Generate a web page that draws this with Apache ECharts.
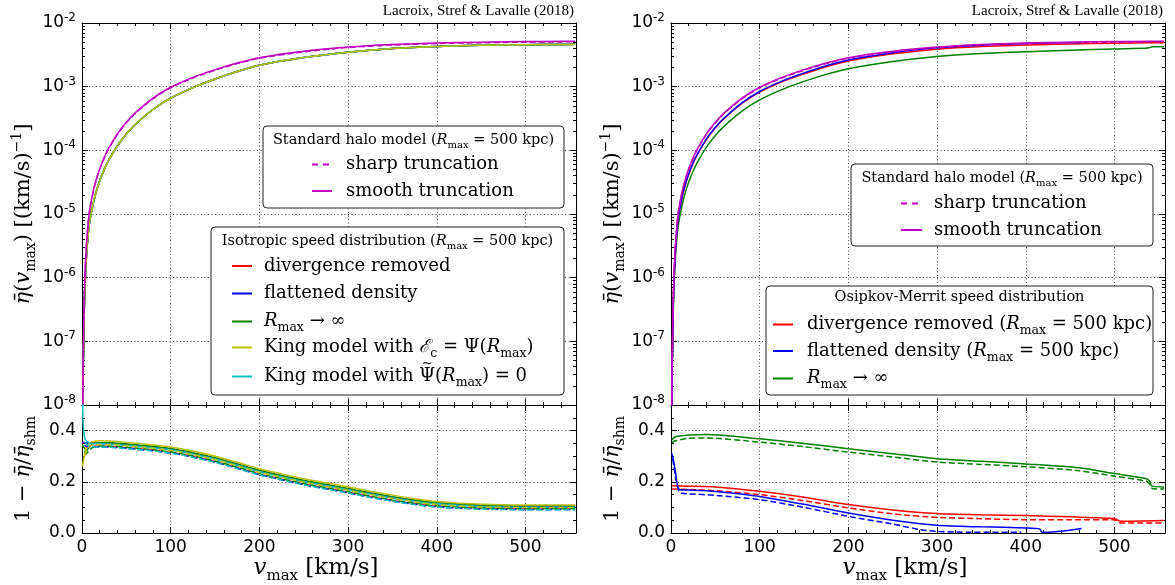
<!DOCTYPE html>
<html><head><meta charset="utf-8">
<script src="https://cdn.jsdelivr.net/npm/echarts@6/dist/echarts.min.js"></script>
<style>html,body{margin:0;padding:0;background:#fff}#c{width:1175px;height:585px}</style>
</head><body><div id="c"></div>
<script>
// ---------------- DATA ----------------
// top panels: eta-bar(v_max) in (km/s)^-1
const vTop = [0.5, 1, 2, 3, 5, 8, 12, 16, 20, 25, 30, 40, 50, 60, 80, 100, 125, 150, 175, 200, 250, 300, 350, 400, 450, 500, 540, 556];
const etaShmSmooth = [3e-9, 2e-8, 2e-7, 8e-7, 3.3e-6, 1e-5, 2.07e-5, 3.46e-5, 5.15e-5, 7.69e-5, 1.07e-4, 1.82e-4, 2.76e-4, 3.87e-4, 6.6e-4, 9.8e-4, 1.4e-3, 1.85e-3, 2.35e-3, 2.85e-3, 3.6e-3, 4.2e-3, 4.6e-3, 4.85e-3, 5.0e-3, 5.1e-3, 5.15e-3, 5.16e-3];
const etaShmSharp = [2.9e-9, 1.96e-8, 1.96e-7, 7.85e-7, 3.23e-6, 9.8e-6, 2.03e-5, 3.39e-5, 5.05e-5, 7.54e-5, 1.05e-4, 1.78e-4, 2.7e-4, 3.79e-4, 6.47e-4, 9.6e-4, 1.37e-3, 1.81e-3, 2.3e-3, 2.79e-3, 3.53e-3, 4.12e-3, 4.51e-3, 4.76e-3, 4.9e-3, 5.0e-3, 5.05e-3, 5.06e-3];
const etaIsotropic = [1.95e-9, 1.3e-8, 1.3e-7, 5.2e-7, 2.14e-6, 6.48e-6, 1.34e-5, 2.24e-5, 3.33e-5, 4.98e-5, 6.94e-5, 1.18e-4, 1.8e-4, 2.54e-4, 4.38e-4, 6.59e-4, 9.66e-4, 1.32e-3, 1.73e-3, 2.17e-3, 2.86e-3, 3.47e-3, 3.96e-3, 4.28e-3, 4.47e-3, 4.57e-3, 4.61e-3, 4.62e-3];
const etaOMDiv = [2.45e-9, 1.63e-8, 1.63e-7, 6.52e-7, 2.69e-6, 8.15e-6, 1.69e-5, 2.83e-5, 4.21e-5, 6.28e-5, 8.74e-5, 1.49e-4, 2.26e-4, 3.18e-4, 5.48e-4, 8.2e-4, 1.19e-3, 1.59e-3, 2.06e-3, 2.53e-3, 3.28e-3, 3.88e-3, 4.27e-3, 4.52e-3, 4.69e-3, 4.81e-3, 4.9e-3, 4.91e-3];
const vTopOMFlat = [0.5, 1, 2, 3, 5, 8, 12, 16, 20, 25, 30, 40, 50, 60, 80, 100, 125, 150, 175, 200, 250, 300, 350, 400, 450, 463];
const etaOMFlat = [2.0e-9, 1.34e-8, 1.38e-7, 5.8e-7, 2.55e-6, 8.3e-6, 1.72e-5, 2.88e-5, 4.28e-5, 6.4e-5, 8.9e-5, 1.51e-4, 2.3e-4, 3.22e-4, 5.58e-4, 8.4e-4, 1.22e-3, 1.64e-3, 2.13e-3, 2.63e-3, 3.42e-3, 4.07e-3, 4.49e-3, 4.75e-3, 4.94e-3, 4.96e-3];
const vTopOMInf = [0.5, 1, 2, 3, 5, 8, 12, 16, 20, 25, 30, 40, 50, 60, 80, 100, 125, 150, 175, 200, 250, 300, 350, 400, 450, 500, 538, 543, 556];
const etaOMInf = [1.9e-9, 1.28e-8, 1.27e-7, 5.0e-7, 2.05e-6, 6.2e-6, 1.28e-5, 2.13e-5, 3.18e-5, 4.74e-5, 6.6e-5, 1.12e-4, 1.71e-4, 2.4e-4, 4.13e-4, 6.19e-4, 8.99e-4, 1.21e-3, 1.56e-3, 1.91e-3, 2.48e-3, 2.98e-3, 3.31e-3, 3.54e-3, 3.73e-3, 3.92e-3, 4.06e-3, 4.23e-3, 4.23e-3];

// bottom-left: 1 - eta/eta_shm, isotropic models (solid: vs smooth, dashed: vs sharp)
const vIso = [0.3, 1, 2, 3, 5, 8, 12, 20, 30, 50, 75, 100, 125, 150, 175, 200, 225, 250, 275, 300, 325, 350, 375, 400, 450, 500, 556];
const isoDivSmooth = [0.352,0.352,0.352,0.352,0.352,0.352,0.352,0.352,0.351,0.346,0.338,0.328,0.312,0.292,0.268,0.243,0.223,0.204,0.188,0.172,0.155,0.140,0.127,0.117,0.107,0.104,0.104];
const isoFlatSmooth = [0.356,0.355,0.354,0.352,0.351,0.350,0.350,0.350,0.349,0.344,0.336,0.326,0.310,0.290,0.266,0.241,0.221,0.202,0.186,0.170,0.153,0.138,0.125,0.115,0.105,0.102,0.102];
const isoInfSmooth = [0.345,0.34,0.335,0.33,0.32,0.335,0.348,0.353,0.353,0.348,0.340,0.330,0.314,0.294,0.270,0.245,0.225,0.206,0.190,0.174,0.157,0.142,0.129,0.119,0.109,0.106,0.106];
const isoKingASmooth = [0.26,0.27,0.29,0.31,0.335,0.35,0.357,0.36,0.359,0.354,0.346,0.336,0.320,0.300,0.276,0.251,0.231,0.212,0.196,0.180,0.163,0.148,0.134,0.123,0.112,0.109,0.109];
const isoKingBSmooth = [0.62,0.45,0.40,0.37,0.36,0.352,0.350,0.349,0.348,0.343,0.335,0.325,0.309,0.289,0.265,0.240,0.220,0.201,0.185,0.169,0.152,0.137,0.124,0.114,0.104,0.101,0.101];
const vIsoSharp = [3, 5, 8, 12, 20, 30, 50, 75, 100, 125, 150, 175, 200, 225, 250, 275, 300, 325, 350, 375, 400, 450, 500, 556];
const isoDivSharp = [0.338,0.339,0.339,0.339,0.339,0.338,0.333,0.325,0.315,0.299,0.279,0.255,0.230,0.210,0.191,0.175,0.159,0.142,0.127,0.114,0.104,0.096,0.094,0.094];
const isoFlatSharp = [0.342,0.338,0.337,0.337,0.337,0.336,0.331,0.323,0.313,0.297,0.277,0.253,0.228,0.208,0.189,0.173,0.157,0.140,0.125,0.112,0.102,0.094,0.092,0.092];
const isoInfSharp = [0.32,0.31,0.322,0.334,0.340,0.340,0.335,0.327,0.317,0.301,0.281,0.257,0.232,0.212,0.193,0.177,0.161,0.144,0.129,0.116,0.106,0.098,0.096,0.096];
const isoKingASharp = [0.30,0.322,0.337,0.344,0.346,0.346,0.341,0.333,0.323,0.307,0.287,0.263,0.238,0.218,0.199,0.183,0.167,0.150,0.135,0.122,0.111,0.102,0.100,0.100];
const isoKingBSharp = [0.355,0.347,0.339,0.337,0.336,0.335,0.330,0.322,0.312,0.296,0.276,0.252,0.227,0.207,0.188,0.172,0.156,0.139,0.124,0.111,0.101,0.093,0.091,0.091];

// bottom-right: Osipkov-Merritt models
const vOMInfSmooth = [1, 5, 20, 40, 100, 150, 200, 250, 300, 350, 400, 460, 500, 536, 540, 542, 556];
const omInfSmooth = [0.363,0.376,0.383,0.385,0.368,0.350,0.329,0.31,0.29,0.28,0.27,0.255,0.232,0.212,0.20,0.183,0.18];
const vOMInfSharp = [1, 5, 20, 40, 100, 150, 200, 250, 300, 350, 400, 460, 500, 536, 540, 543, 556];
const omInfSharp = [0.353,0.36,0.37,0.371,0.355,0.337,0.316,0.297,0.277,0.268,0.259,0.243,0.222,0.202,0.19,0.173,0.172];
const vOMDivSmooth = [1, 20, 50, 100, 150, 200, 250, 300, 350, 400, 450, 500, 503, 506, 556];
const omDivSmooth = [0.185,0.183,0.18,0.163,0.14,0.111,0.09,0.076,0.071,0.068,0.063,0.057,0.052,0.046,0.049];
const vOMDivSharp = [1, 20, 50, 100, 150, 200, 250, 300, 350, 400, 450, 500, 504, 507, 556];
const omDivSharp = [0.172,0.17,0.165,0.15,0.126,0.098,0.075,0.061,0.056,0.052,0.052,0.052,0.045,0.039,0.039];
const vOMFlatSmooth = [1, 3, 5, 7, 9, 12, 20, 50, 100, 150, 200, 250, 300, 350, 400, 416, 418, 430, 463];
const omFlatSmooth = [0.311,0.28,0.24,0.19,0.172,0.168,0.168,0.162,0.143,0.112,0.078,0.05,0.03,0.024,0.02,0.016,0.003,0.004,0.018];
const vOMFlatSharp = [2, 5, 9, 12, 20, 50, 100, 150, 200, 250, 281, 300, 337, 395];
const omFlatSharp = [0.29,0.22,0.16,0.155,0.153,0.147,0.13,0.1,0.065,0.035,0.013,0.006,0.003,0.003];

// ticks
const xMajorInterval = 100;
const xMinorTicks = [20,40,60,80,120,140,160,180,220,240,260,280,320,340,360,380,420,440,460,480,520,540];
const ratioMinorTicks = [0.05,0.1,0.15,0.25,0.3,0.35,0.45];
const logMinorTicks = [];
for (let e = -8; e < -2; e++) for (let m = 2; m < 10; m++) logMinorTicks.push(+(m * Math.pow(10, e)).toPrecision(3));

// ---------------- CHART ----------------
const SERIF = 'DejaVu Serif';
const SERIF2 = 'Liberation Serif';
const SANS = 'DejaVu Sans';
const BLACK = '#000';
const X_MAX = 557;
const C = {r:'#ff0000', b:'#0000ff', g:'#008000', y:'#bfbf00', c:'#00bfbf', m:'#bf00bf'};

const grids = [
  {left:82, top:23, width:494, height:382},
  {left:82, top:405, width:494, height:128},
  {left:671, top:23, width:494, height:382},
  {left:671, top:405, width:494, height:128}
];

const nameRich = {
  n:{fontFamily:SERIF, fontSize:21, lineHeight:28, color:BLACK},
  i:{fontFamily:SERIF, fontSize:21, fontStyle:'italic', lineHeight:28, color:BLACK},
  s:{fontFamily:SERIF, fontSize:14, lineHeight:14, verticalAlign:'bottom', color:BLACK},
  p:{fontFamily:SERIF, fontSize:14, lineHeight:14, verticalAlign:'top', color:BLACK}
};
const xNameRich = {
  n:{fontFamily:SERIF, fontSize:23, lineHeight:30, color:BLACK},
  i:{fontFamily:SERIF, fontSize:23, fontStyle:'italic', lineHeight:30, color:BLACK},
  s:{fontFamily:SERIF, fontSize:15, lineHeight:15, verticalAlign:'bottom', color:BLACK}
};
const dotted = {show:true, lineStyle:{color:'#444', type:[1,2.5], width:1}};

const xAxis = [], yAxis = [], xMain = [], yMain = [];
grids.forEach((g, gi) => {
  const isBottom = gi % 2 === 1;
  xMain[gi] = xAxis.length;
  xAxis.push({
    type:'value', gridIndex:gi, position:'bottom', min:0, max:X_MAX, interval:xMajorInterval,
    axisLine:{show:true, onZero:false, lineStyle:{color:BLACK, width:1}},
    axisTick:{show:true, inside:true, length:6, lineStyle:{color:BLACK}},
    splitLine:dotted,
    axisLabel: isBottom ? {show:true, color:BLACK, fontFamily:SANS, fontSize:17, margin:6,
      formatter: v => (v % 100 === 0 ? String(v) : '')} : {show:false},
    name: isBottom ? '{i|v}{s|max}{n| [km/s]}' : '',
    nameLocation:'middle', nameGap:19, nameTextStyle:{rich:xNameRich, padding:[0, 26, 0, 0]}
  });
  xAxis.push({type:'value', gridIndex:gi, position:'bottom', min:0, max:X_MAX,
    axisLine:{show:false, onZero:false}, axisTick:{show:true, inside:true, length:3, customValues:xMinorTicks, lineStyle:{color:BLACK}},
    axisLabel:{show:false}, splitLine:{show:false}});
  xAxis.push({type:'value', gridIndex:gi, position:'top', min:0, max:X_MAX, interval:xMajorInterval,
    axisLine:{show:true, onZero:false, lineStyle:{color:BLACK, width:1}},
    axisTick:{show:true, inside:true, length:6, lineStyle:{color:BLACK}}, axisLabel:{show:false}, splitLine:{show:false}});
  xAxis.push({type:'value', gridIndex:gi, position:'top', min:0, max:X_MAX,
    axisLine:{show:false, onZero:false}, axisTick:{show:true, inside:true, length:3, customValues:xMinorTicks, lineStyle:{color:BLACK}},
    axisLabel:{show:false}, splitLine:{show:false}});

  const base = isBottom
    ? {type:'value', min:0, max:0.5, interval:0.2}
    : {type:'log', logBase:10, min:1e-8, max:1e-2, splitNumber:6};
  const minorVals = isBottom ? ratioMinorTicks : logMinorTicks;
  yMain[gi] = yAxis.length;
  yAxis.push(Object.assign({}, base, {
    gridIndex:gi, position:'left',
    axisLine:{show:true, onZero:false, lineStyle:{color:BLACK, width:1}},
    axisTick:{show:true, inside:true, length:6, lineStyle:{color:BLACK}},
    splitLine:dotted,
    axisLabel: isBottom
      ? {color:BLACK, fontFamily:SANS, fontSize:17, margin:6, formatter: v => (v > 0.45 ? '' : v.toFixed(1))}
      : {margin:6, formatter: v => '{b|10}{s|' + Math.round(Math.log10(v)) + '}',
         rich:{b:{fontFamily:SANS, fontSize:17, lineHeight:22, color:BLACK},
               s:{fontFamily:SANS, fontSize:12, lineHeight:12, verticalAlign:'top', color:BLACK}}},
    name: isBottom ? '{n|1 − }{i|η̄}{n|/}{i|η̄}{s|shm}' : '{i|η̄}{n|(}{i|v}{s|max}{n|) [(km/s)}{p|−1}{n|]}',
    nameLocation:'middle', nameRotate:90, nameGap:44, nameTextStyle:{rich:nameRich}
  }));
  yAxis.push(Object.assign({}, base, {gridIndex:gi, position:'left',
    axisLine:{show:false, onZero:false}, axisTick:{show:true, inside:true, length:3, customValues:minorVals, lineStyle:{color:BLACK}},
    axisLabel:{show:false}, splitLine:{show:false}}));
  yAxis.push(Object.assign({}, base, {gridIndex:gi, position:'right',
    axisLine:{show:true, onZero:false, lineStyle:{color:BLACK, width:1}},
    axisTick:{show:true, inside:true, length:6, lineStyle:{color:BLACK}}, axisLabel:{show:false}, splitLine:{show:false}}));
  yAxis.push(Object.assign({}, base, {gridIndex:gi, position:'right',
    axisLine:{show:false, onZero:false}, axisTick:{show:true, inside:true, length:3, customValues:minorVals, lineStyle:{color:BLACK}},
    axisLabel:{show:false}, splitLine:{show:false}}));
});

const series = [];
function addLine(gi, xs, ys, color, dashed) {
  series.push({
    type:'line', xAxisIndex:xMain[gi], yAxisIndex:yMain[gi],
    data: xs.map((x, i) => [x, ys[i]]),
    showSymbol:false, symbol:'none', smooth:0.25, silent:true, clip:true,
    lineStyle:{color:color, width:1.5, type: dashed ? [6,3] : 'solid'}
  });
}
// top-left
addLine(0, vTop, etaIsotropic, C.r, false);
addLine(0, vTop, etaIsotropic, C.b, false);
addLine(0, vTop, etaIsotropic, C.g, false);
addLine(0, vTop, etaIsotropic, C.c, false);
addLine(0, vTop, etaIsotropic, C.y, false);
addLine(0, vTop, etaShmSmooth, C.m, false);
addLine(0, vTop, etaShmSharp, C.m, true);
// bottom-left
addLine(1, vIso, isoDivSmooth, C.r, false);
addLine(1, vIso, isoFlatSmooth, C.b, false);
addLine(1, vIso, isoInfSmooth, C.g, false);
addLine(1, vIso, isoKingASmooth, C.y, false);
addLine(1, vIso, isoKingBSmooth, C.c, false);
addLine(1, vIsoSharp, isoDivSharp, C.r, true);
addLine(1, vIsoSharp, isoFlatSharp, C.b, true);
addLine(1, vIsoSharp, isoInfSharp, C.g, true);
addLine(1, vIsoSharp, isoKingASharp, C.y, true);
addLine(1, vIsoSharp, isoKingBSharp, C.c, true);
// top-right
addLine(2, vTopOMInf, etaOMInf, C.g, false);
addLine(2, vTop, etaOMDiv, C.r, false);
addLine(2, vTopOMFlat, etaOMFlat, C.b, false);
addLine(2, vTop, etaShmSmooth, C.m, false);
addLine(2, vTop, etaShmSharp, C.m, true);
// bottom-right
addLine(3, vOMDivSmooth, omDivSmooth, C.r, false);
addLine(3, vOMDivSharp, omDivSharp, C.r, true);
addLine(3, vOMFlatSmooth, omFlatSmooth, C.b, false);
addLine(3, vOMFlatSharp, omFlatSharp, C.b, true);
addLine(3, vOMInfSmooth, omInfSmooth, C.g, false);
addLine(3, vOMInfSharp, omInfSharp, C.g, true);

// ---------------- LEGENDS (graphic) ----------------
const ROW_FS = 18;
const legendRich = {
  n:{fontFamily:SERIF, fontSize:ROW_FS, lineHeight:26, color:BLACK},
  i:{fontFamily:SERIF, fontSize:ROW_FS, fontStyle:'italic', lineHeight:26, color:BLACK},
  s:{fontFamily:SERIF, fontSize:12.5, lineHeight:14, verticalAlign:'bottom', color:BLACK},
  tn:{fontFamily:SERIF, fontSize:14.5, lineHeight:20, color:BLACK},
  ti:{fontFamily:SERIF, fontSize:14.5, fontStyle:'italic', lineHeight:20, color:BLACK},
  ts:{fontFamily:SERIF, fontSize:10, lineHeight:11, verticalAlign:'bottom', color:BLACK}
};
const measureCtx = document.createElement('canvas').getContext('2d');
function textWidth(str, size) { measureCtx.font = size + 'px "' + SERIF + '"'; return measureCtx.measureText(str).width; }

const graphics = [];
function legendBox(box, title, titleY, rows, hx1, hx2, tx) {
  graphics.push({type:'rect', z:100, shape:{x:box[0], y:box[1], width:box[2], height:box[3], r:4},
    style:{fill:'#fff', stroke:'#222', lineWidth:1}});
  graphics.push({type:'text', z:101, style:{text:title, rich:legendRich, x:box[0] + box[2] / 2, y:titleY,
    align:'center', verticalAlign:'middle'}});
  rows.forEach(r => {
    graphics.push({type:'line', z:101, shape:{x1:hx1, y1:r.y, x2:hx2, y2:r.y},
      style:{stroke:r.color, lineWidth:2, lineDash: r.dashed ? [6,5] : null}});
    graphics.push({type:'text', z:101, style:{text:r.text, rich:legendRich, x:tx, y:r.y, align:'left', verticalAlign:'middle'}});
    if (r.tildeAfter) {
      const cx = tx + textWidth(r.tildeAfter, ROW_FS) + textWidth('Ψ', ROW_FS) / 2;
      graphics.push({type:'text', z:102, style:{text:'~', x:cx, y:r.y - 13, align:'center', verticalAlign:'middle',
        fontFamily:SERIF, fontSize:13, fill:BLACK}});
    }
  });
}
const shmTitle = '{tn|Standard halo model (}{ti|R}{ts|max}{tn| = 500 kpc)}';
legendBox([263, 126, 301, 82], shmTitle, 140, [
  {y:164.5, color:C.m, dashed:true, text:'{n|sharp truncation}'},
  {y:191, color:C.m, dashed:false, text:'{n|smooth truncation}'}
], 312, 332, 346);
legendBox([211, 227, 353, 168], '{tn|Isotropic speed distribution (}{ti|R}{ts|max}{tn| = 500 kpc)}', 241, [
  {y:266, color:C.r, text:'{n|divergence removed}'},
  {y:293.5, color:C.b, text:'{n|flattened density}'},
  {y:321.5, color:C.g, text:'{i|R}{s|max}{n| → ∞}'},
  {y:347.5, color:C.y, text:'{n|King model with }{i|ℰ}{s|c}{n| = Ψ(}{i|R}{s|max}{n|)}'},
  {y:376.5, color:C.c, text:'{n|King model with Ψ(}{i|R}{s|max}{n|) = 0}', tildeAfter:'King model with '}
], 232, 252, 264);
legendBox([851, 164, 302, 82], shmTitle, 178.5, [
  {y:203.5, color:C.m, dashed:true, text:'{n|sharp truncation}'},
  {y:230, color:C.m, dashed:false, text:'{n|smooth truncation}'}
], 901, 922, 934);
legendBox([766, 286, 387, 109], '{tn|Osipkov-Merrit speed distribution}', 297.5, [
  {y:324.5, color:C.r, text:'{n|divergence removed (}{i|R}{s|max}{n| = 500 kpc)}'},
  {y:351, color:C.b, text:'{n|flattened density (}{i|R}{s|max}{n| = 500 kpc)}'},
  {y:378.5, color:C.g, text:'{i|R}{s|max}{n| → ∞}'}
], 773, 793, 807);
[574, 1163].forEach(x => graphics.push({type:'text', z:101,
  style:{text:'Lacroix, Stref & Lavalle (2018)', x:x, y:11, align:'right', verticalAlign:'middle',
    fontFamily:SERIF2, fontSize:15, fill:BLACK}}));

const chart = echarts.init(document.getElementById('c'), null, {renderer:'canvas'});
chart.setOption({
  animation:false,
  backgroundColor:'#fff',
  grid:grids,
  xAxis:xAxis,
  yAxis:yAxis,
  series:series,
  graphic:{elements:graphics}
});
</script>
</body></html>
